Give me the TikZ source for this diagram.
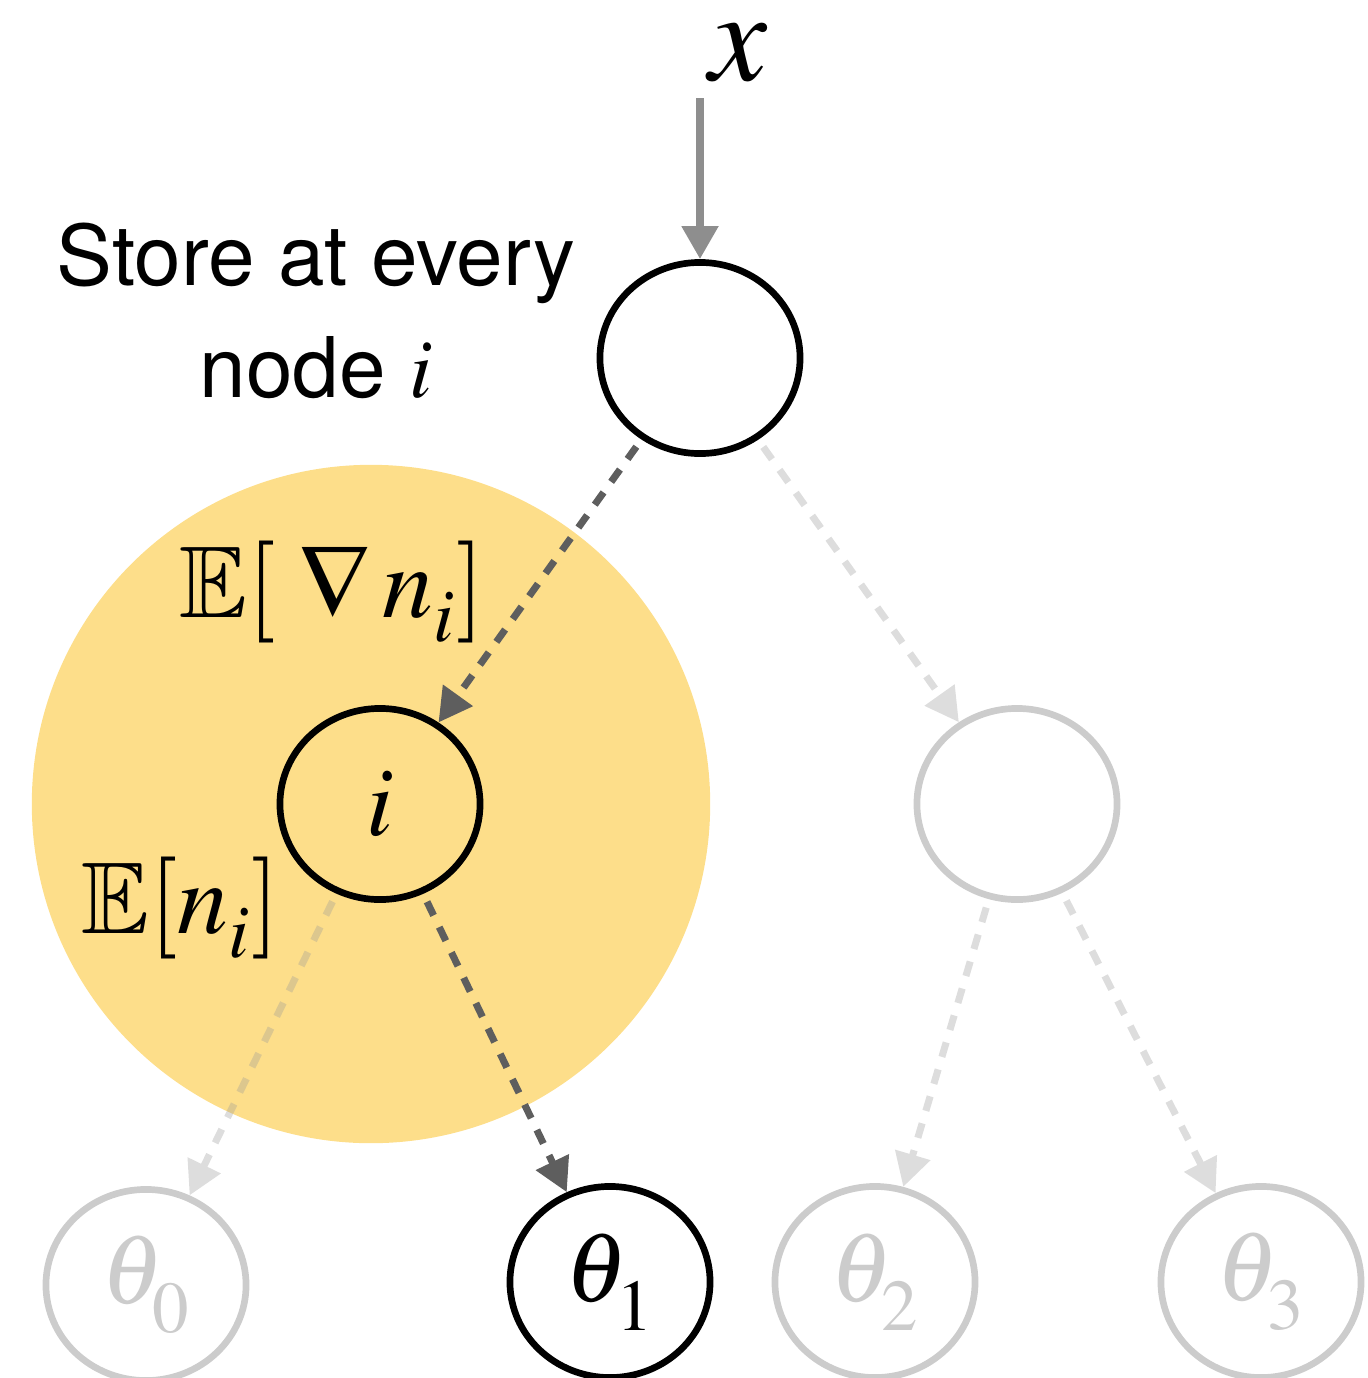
\documentclass[tikz,border=0pt]{standalone}
\usepackage{mathptmx}
\usepackage{amssymb}
\usepackage{fontspec}
\setmainfont{TeX Gyre Heros}
\usepackage{xcolor}
\usetikzlibrary{arrows.meta,shapes.geometric}

\definecolor{honey}{HTML}{FDDE8A}
\definecolor{faint}{HTML}{CCCCCC}
\definecolor{pathgray}{HTML}{5E5E5E}
\definecolor{feedgray}{HTML}{8E8E8E}

\newcommand{\leafparam}[1]{\theta_{\raisebox{-4pt}{$\scriptstyle #1$}}}
\newcommand{\nodeval}{n_{\raisebox{-2.5pt}{$\scriptstyle i$}}}

\begin{document}
\begin{tikzpicture}[
  x=0.01cm,y=-0.01cm,
  tnode/.style={ellipse, draw, line width=1.9pt, minimum width=2.0cm, minimum height=1.91cm, inner sep=0pt, font=\fontsize{28}{30}\selectfont},
  dim/.style={tnode, draw=faint, text=faint},
  mathlbl/.style={inner sep=0pt, anchor=base west, font=\fontsize{29}{31}\selectfont},
  live/.style={-{Triangle[length=9.5pt,width=10pt]}, draw=pathgray, line width=2pt, dash pattern=on 4.3pt off 3.7pt, shorten <=2.5pt},
  ghost/.style={live, draw=black!40},
  feed/.style={-{Triangle[length=9.4pt,width=10pt]}, draw=feedgray, line width=2.2pt}
]
\useasboundingbox (0,0) rectangle (1368,1378);
\fill[honey] (371,804) circle (3.39cm);

\node[inner sep=0pt, anchor=base, font=\fontsize{37}{40}\selectfont] (xin) at (739,80) {$x$};
\coordinate (feedtop) at (700,98);
\node[inner sep=0pt, align=center, font=\fontsize{23.8}{32}\selectfont] (note) at (316,311) {Store at every\\node $i$};

\node[tnode] (root) at (700,358) {};
\node[tnode] (i) at (380,804) {$i$};
\node[dim] (right) at (1017,804) {};
\node[dim] (t0) at (146,1285) {$\leafparam{0}$};
\node[tnode] (t1) at (610,1282) {$\leafparam{1}$};
\node[dim] (t2) at (875,1282) {$\leafparam{2}$};
\node[dim] (t3) at (1261,1282) {$\leafparam{3}$};

\node[mathlbl] (gradlbl) at (179,617) {$\mathbb{E}[\;\nabla\, \nodeval]$};
\node[mathlbl] (meanlbl) at (81,933) {$\mathbb{E}[\nodeval]$};

\draw[feed] (feedtop) -- (root);
\draw[live] (root) -- (i);
\draw[live] (i) -- (t1);
\begin{scope}[transparency group, opacity=0.33]
\draw[ghost] (root) -- (right);
\draw[ghost] (i) -- (t0);
\draw[ghost] (right) -- (t2);
\draw[ghost] (right) -- (t3);
\end{scope}
\end{tikzpicture}
\end{document}
